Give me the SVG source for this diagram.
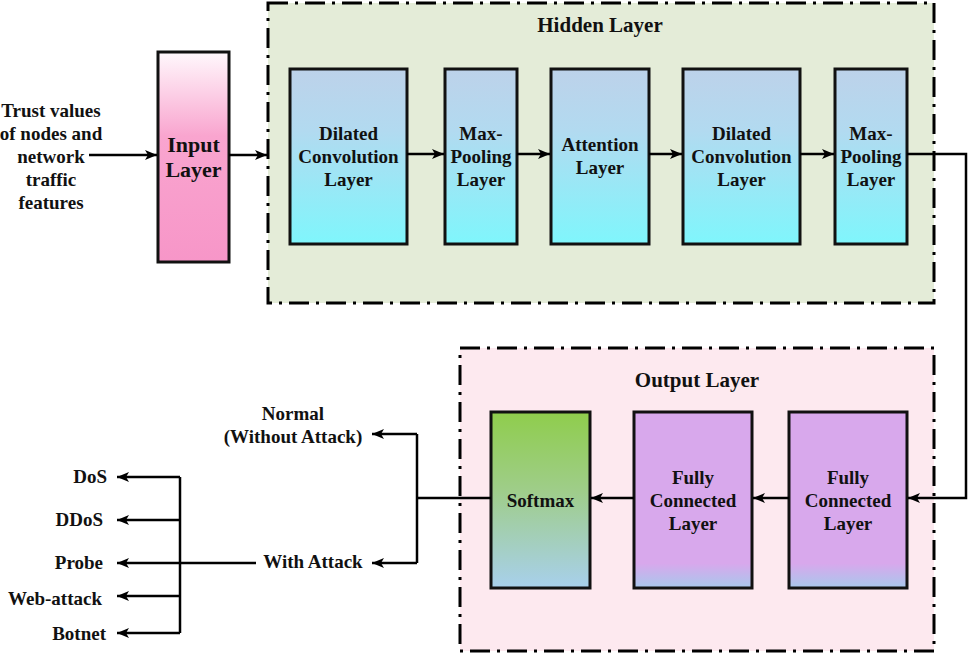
<svg xmlns="http://www.w3.org/2000/svg" width="968" height="660" viewBox="0 0 968 660">
<defs>
<linearGradient id="gIn" x1="0" y1="0" x2="0" y2="1"><stop offset="0" stop-color="#fff8fc"/><stop offset="0.4" stop-color="#f9a5cf"/><stop offset="1" stop-color="#f796c8"/></linearGradient>
<linearGradient id="gHid" x1="0" y1="0" x2="0" y2="1"><stop offset="0" stop-color="#bdd2ea"/><stop offset="0.35" stop-color="#b2daf0"/><stop offset="1" stop-color="#7ff6fc"/></linearGradient>
<linearGradient id="gSoft" x1="0" y1="0" x2="0" y2="1"><stop offset="0" stop-color="#8fcd4c"/><stop offset="0.45" stop-color="#9fcd8a"/><stop offset="1" stop-color="#a8d0ec"/></linearGradient>
<linearGradient id="gFC" x1="0" y1="0" x2="0" y2="1"><stop offset="0" stop-color="#d8a8ec"/><stop offset="0.86" stop-color="#d8a8ec"/><stop offset="1" stop-color="#a8c8ec"/></linearGradient>
<marker id="ah" viewBox="0 0 12 10" refX="12" refY="5" markerWidth="12" markerHeight="10" markerUnits="userSpaceOnUse" orient="auto"><path d="M0,0 L12,5 L0,10 L3,5 Z" fill="#000"/></marker>
<style>
.t{font-family:"Liberation Serif","Times New Roman",serif;font-weight:bold;font-size:19px;fill:#111;text-anchor:middle}
.ti{font-size:21px}
.tin{font-size:22px}
.e{text-anchor:end}
.box{stroke:#111;stroke-width:3}
.frame{stroke:#000;stroke-width:3;stroke-dasharray:20 7 3 7}
.c{fill:none;stroke:#000;stroke-width:2.5}
</style>
</defs>
<rect width="968" height="660" fill="#fff"/>
<g id="hidden-frame">
<rect x="268" y="3" width="666" height="300" fill="#e4ecd8" class="frame"/>
<text x="600" y="32" class="t ti">Hidden Layer</text>
</g>
<g id="output-frame">
<rect x="460" y="348" width="474" height="303" fill="#fde9ef" class="frame"/>
<text x="697" y="387" class="t ti">Output Layer</text>
</g>
<g id="input-text">
<text class="t" x="51" y="117">Trust values</text>
<text class="t" x="51" y="140">of nodes and</text>
<text class="t" x="51" y="163">network</text>
<text class="t" x="51" y="186">traffic</text>
<text class="t" x="51" y="209">features</text>
</g>
<g id="input-layer">
<rect x="158" y="52" width="71" height="210" fill="url(#gIn)" class="box"/>
<text class="t tin" x="193.5" y="152">Input</text>
<text class="t tin" x="193.5" y="177">Layer</text>
</g>
<g id="dilated1">
<rect x="290" y="69" width="117" height="175" fill="url(#gHid)" class="box"/>
<text class="t" x="348.5" y="140">Dilated</text>
<text class="t" x="348.5" y="163">Convolution</text>
<text class="t" x="348.5" y="186">Layer</text>
</g>
<g id="maxpool1">
<rect x="445" y="69" width="72" height="175" fill="url(#gHid)" class="box"/>
<text class="t" x="481" y="140">Max-</text>
<text class="t" x="481" y="163">Pooling</text>
<text class="t" x="481" y="186">Layer</text>
</g>
<g id="attention">
<rect x="551" y="69" width="98" height="175" fill="url(#gHid)" class="box"/>
<text class="t" x="600" y="151">Attention</text>
<text class="t" x="600" y="174">Layer</text>
</g>
<g id="dilated2">
<rect x="683" y="69" width="117" height="175" fill="url(#gHid)" class="box"/>
<text class="t" x="741.5" y="140">Dilated</text>
<text class="t" x="741.5" y="163">Convolution</text>
<text class="t" x="741.5" y="186">Layer</text>
</g>
<g id="maxpool2">
<rect x="835" y="69" width="72" height="175" fill="url(#gHid)" class="box"/>
<text class="t" x="871" y="140">Max-</text>
<text class="t" x="871" y="163">Pooling</text>
<text class="t" x="871" y="186">Layer</text>
</g>
<g id="softmax">
<rect x="491" y="412" width="99" height="176" fill="url(#gSoft)" class="box"/>
<text class="t" x="540.5" y="507">Softmax</text>
</g>
<g id="fc1">
<rect x="634" y="412" width="118" height="176" fill="url(#gFC)" class="box"/>
<text class="t" x="693" y="484">Fully</text>
<text class="t" x="693" y="507">Connected</text>
<text class="t" x="693" y="530">Layer</text>
</g>
<g id="fc2">
<rect x="789" y="412" width="118" height="176" fill="url(#gFC)" class="box"/>
<text class="t" x="848" y="484">Fully</text>
<text class="t" x="848" y="507">Connected</text>
<text class="t" x="848" y="530">Layer</text>
</g>
<g id="labels">
<text class="t" x="293" y="420">Normal</text>
<text class="t" x="293" y="443">(Without Attack)</text>
<text class="t" x="313" y="568">With Attack</text>
<text class="t e" x="107" y="483">DoS</text>
<text class="t e" x="103" y="526">DDoS</text>
<text class="t e" x="103" y="569">Probe</text>
<text class="t e" x="102" y="605">Web-attack</text>
<text class="t e" x="106" y="640">Botnet</text>
</g>
<g id="connectors">
<line class="c" x1="89" y1="155" x2="157" y2="155" marker-end="url(#ah)"/>
<line class="c" x1="229" y1="155" x2="267" y2="155" marker-end="url(#ah)"/>
<line class="c" x1="407" y1="154" x2="444" y2="154" marker-end="url(#ah)"/>
<line class="c" x1="517" y1="154" x2="550" y2="154" marker-end="url(#ah)"/>
<line class="c" x1="649" y1="154" x2="682" y2="154" marker-end="url(#ah)"/>
<line class="c" x1="800" y1="154" x2="834" y2="154" marker-end="url(#ah)"/>
<polyline class="c" points="907,154 966,154 966,498 908,498" marker-end="url(#ah)"/>
<line class="c" x1="789" y1="498" x2="753" y2="498" marker-end="url(#ah)"/>
<line class="c" x1="634" y1="498" x2="591" y2="498" marker-end="url(#ah)"/>
<line class="c" x1="491" y1="498" x2="417" y2="498"/>
<line class="c" x1="417" y1="434" x2="417" y2="563"/>
<line class="c" x1="417" y1="434" x2="372" y2="434" marker-end="url(#ah)"/>
<line class="c" x1="417" y1="563" x2="372" y2="563" marker-end="url(#ah)"/>
<line class="c" x1="256" y1="563" x2="117" y2="563" marker-end="url(#ah)"/>
<line class="c" x1="180" y1="477" x2="180" y2="633"/>
<line class="c" x1="180" y1="477" x2="117" y2="477" marker-end="url(#ah)"/>
<line class="c" x1="180" y1="520" x2="117" y2="520" marker-end="url(#ah)"/>
<line class="c" x1="180" y1="596" x2="117" y2="596" marker-end="url(#ah)"/>
<line class="c" x1="180" y1="633" x2="117" y2="633" marker-end="url(#ah)"/>
</g>
</svg>
